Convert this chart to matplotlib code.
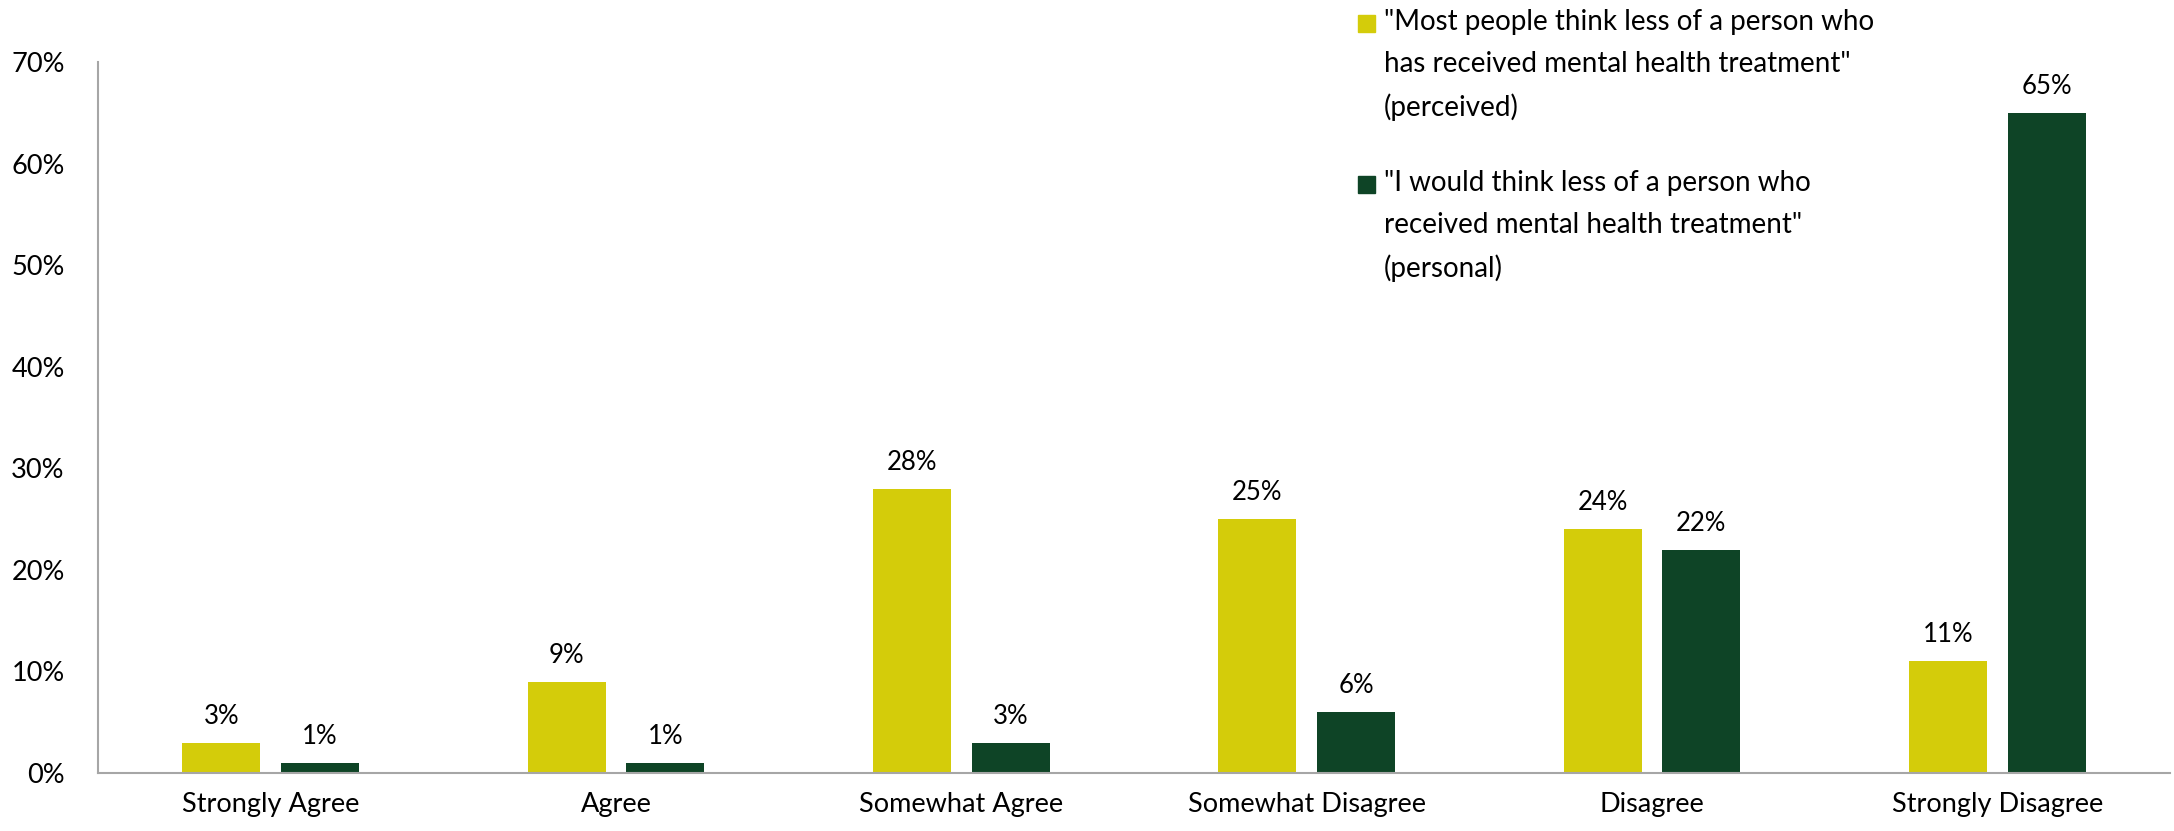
import matplotlib.pyplot as plt
import numpy as np
from matplotlib.patches import Rectangle

# donnees du graphique
categories = ['Strongly Agree', 'Agree', 'Somewhat Agree', 'Somewhat Disagree', 'Disagree', 'Strongly Disagree']
perceived = [3, 9, 28, 25, 24, 11]
personal = [1, 1, 3, 6, 22, 65]
yticks = [0, 10, 20, 30, 40, 50, 60, 70]
label_perceived = '"Most people think less of a person who\nhas received mental health treatment"\n(perceived)'
label_personal = '"I would think less of a person who\nreceived mental health treatment"\n(personal)'

jaune = '#D4CC0A'
vert = '#0E4426'
gris = '#A6A6A6'

plt.rcParams['font.family'] = ['Lato', 'DejaVu Sans']

fig = plt.figure(figsize=(21.74, 8.31), dpi=100)
ax = fig.add_axes([98 / 2174, 1 - 773 / 831, (2170 - 98) / 2174, (773 - 62) / 831])

x = np.arange(len(categories))
w = 0.226
off = 0.143
b1 = ax.bar(x - off, perceived, w, color=jaune)
b2 = ax.bar(x + off, personal, w, color=vert)

# etiquettes des valeurs
for rects, vals in ((b1, perceived), (b2, personal)):
    for r, v in zip(rects, vals):
        ax.annotate(f'{v}%', (r.get_x() + r.get_width() / 2, v), xytext=(0, 10),
                    textcoords='offset points', ha='center', va='bottom', fontsize=18.5)

ax.set_xlim(-0.5, len(categories) - 0.5)
ax.set_ylim(0, 70)
ax.set_yticks(yticks)
ax.set_yticklabels([f'{t}%' for t in yticks], fontsize=19.5)
ax.set_xticks(x)
ax.set_xticklabels(categories, fontsize=19.5)
ax.tick_params(axis='both', length=0)
ax.tick_params(axis='y', pad=24)
ax.tick_params(axis='x', pad=14)
for s in ['top', 'right']:
    ax.spines[s].set_visible(False)
for s in ['left', 'bottom']:
    ax.spines[s].set_color(gris)
    ax.spines[s].set_linewidth(1.5)

# legende manuelle
W, H = 2174, 831
for ytop, col, lab in ((9, jaune, label_perceived), (170, vert, label_personal)):
    fig.add_artist(Rectangle((1358 / W, 1 - (ytop + 23) / H), 17 / W, 17 / H,
                             transform=fig.transFigure, color=col))
    fig.text(1384 / W, 1 - ytop / H, lab, fontsize=20, va='top', ha='left', linespacing=1.75)

fig.savefig('out.png', dpi=100)
